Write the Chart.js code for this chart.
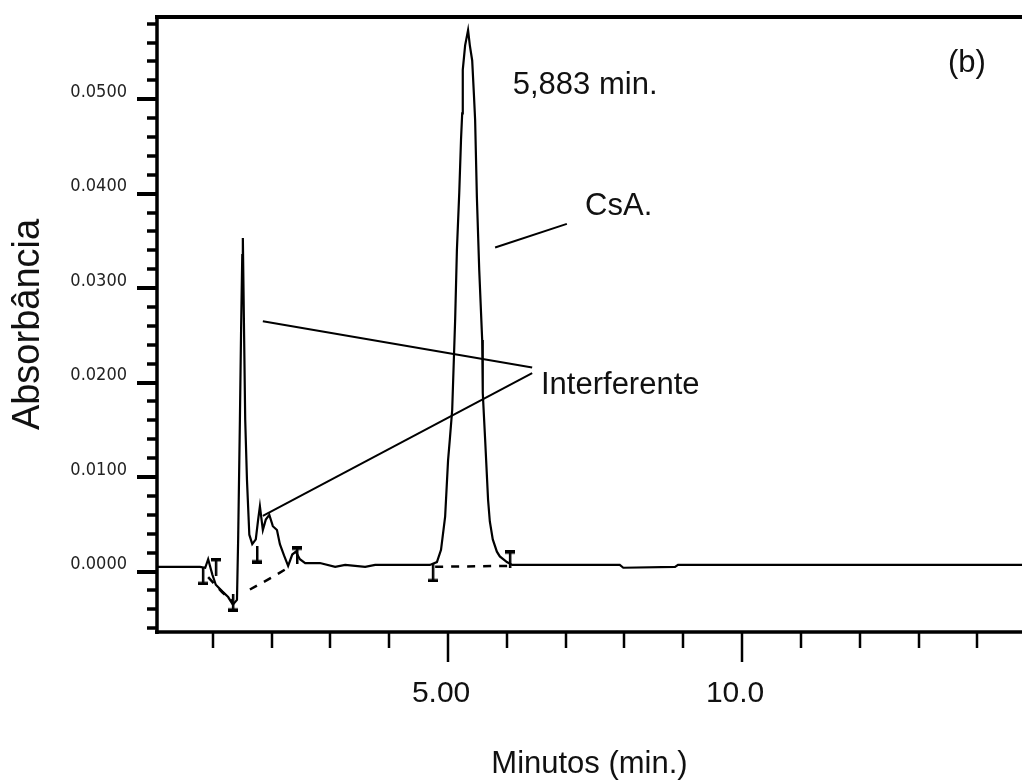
<!DOCTYPE html>
<html>
<head>
<meta charset="utf-8">
<script src="https://cdn.jsdelivr.net/npm/chart.js@4.4.0/dist/chart.umd.min.js"></script>
<style>
  html, body { margin: 0; padding: 0; background: #fff; }
  canvas { display: block; }
</style>
</head>
<body>
<canvas id="cromatograma" width="1022" height="781"></canvas>
<script>
// traço principal: tempo (min) x absorbância
const tempo = [
  0.05, 0.78, 0.87, 0.92, 0.99, 1.05, 1.16, 1.26, 1.34, 1.41,
  1.43, 1.46, 1.48, 1.50, 1.51, 1.53, 1.55, 1.58, 1.62, 1.67,
  1.73, 1.77, 1.80, 1.85, 1.90, 1.96, 2.02, 2.09, 2.14, 2.21,
  2.28, 2.35, 2.41, 2.48, 2.57, 2.82, 3.08, 3.25, 3.59, 3.76,
  4.69, 4.81, 4.88, 4.95, 5.00, 5.03, 5.07, 5.12, 5.15, 5.19,
  5.22, 5.24, 5.25, 5.29, 5.34, 5.37, 5.41, 5.44, 5.46, 5.49,
  5.53, 5.58, 5.59, 5.63, 5.68, 5.71, 5.76, 5.83, 5.88, 6.00,
  6.09, 7.92, 7.98, 8.86, 8.91, 14.76
];
const absorbancia = [
  0.0005, 0.0005, 0.0004, 0.0013, -0.0003, -0.0014, -0.0021, -0.0027, -0.0035, -0.0030,
  0.0034, 0.0161, 0.0256, 0.0335, 0.0353, 0.0256, 0.0161, 0.0097, 0.0039, 0.0029,
  0.0034, 0.0055, 0.0069, 0.0044, 0.0055, 0.0060, 0.0048, 0.0044, 0.0029, 0.0017,
  0.0006, 0.0018, 0.0021, 0.0013, 0.0009, 0.0009, 0.0005, 0.0007, 0.0005, 0.0007,
  0.0007, 0.0010, 0.0023, 0.0058, 0.0118, 0.0140, 0.0171, 0.0266, 0.0340, 0.0401,
  0.0457, 0.0485, 0.0531, 0.0557, 0.0573, 0.0557, 0.0541, 0.0504, 0.0478, 0.0396,
  0.0319, 0.0245, 0.0189, 0.0140, 0.0076, 0.0053, 0.0034, 0.0021, 0.0016, 0.0010,
  0.0007, 0.0007, 0.0004, 0.0005, 0.0007, 0.0007
];

// linha de base da integração (tracejada); null separa os trechos
const baseTempo = [0.92, 1.16, 1.33, null, 1.63, 2.01, 2.28, null, 4.78, 6.05];
const baseAbs = [-0.0006, -0.0022, -0.0031, null, -0.0019, -0.0006, 0.0004, null, 0.0005, 0.0006];

// marcadores de início/fim de pico
const marcaTempo = [0.83, 1.05, 1.34, 1.75, 2.43, 4.74, 6.05];
const marcaAbs = [-0.0005, 0.0005, -0.0033, 0.0018, 0.0017, -0.0002, 0.0013];
const marcaTipo = ['baixo', 'cima', 'baixo', 'baixo', 'cima', 'baixo', 'cima'];

// eixos
const xTickValores = [5, 10];
const xTickTextos = ['5.00', '10.0'];
const yTickValores = [0, 0.01, 0.02, 0.03, 0.04, 0.05];

// anotações
const anotTextos = ['5,883 min.', 'CsA.', 'Interferente', '(b)'];
const anotX = [6.10, 7.33, 6.58, 13.50];
const anotY = [0.0506, 0.0377, 0.0188, 0.0529];
// linhas de chamada: [x1, y1, x2, y2]
const chamadas = [
  [5.80, 0.0343, 7.02, 0.0368],
  [1.85, 0.0265, 6.43, 0.0216],
  [1.85, 0.0059, 6.43, 0.0210]
];

function marcador(tipo) {
  const c = document.createElement('canvas');
  c.width = 10; c.height = 18;
  const g = c.getContext('2d');
  g.fillStyle = '#000';
  g.fillRect(4, 0, 2.5, 18);
  if (tipo === 'cima') g.fillRect(0, 0, 10, 3.5);
  else g.fillRect(0, 14.5, 10, 3.5);
  return c;
}

const pontos = tempo.map((t, i) => ({ x: t, y: absorbancia[i] }));
const base = baseTempo.map((t, i) => ({ x: t, y: baseAbs[i] }));
const marcas = marcaTempo.map((t, i) => ({ x: t, y: marcaAbs[i] }));
const estilos = marcaTipo.map(marcador);

const eixos = {
  id: 'eixos',
  afterDraw(chart) {
    const { ctx, chartArea: a, scales: { x, y } } = chart;
    ctx.save();
    ctx.strokeStyle = '#000';
    ctx.lineCap = 'butt';
    // moldura
    ctx.lineWidth = 4;
    ctx.beginPath(); ctx.moveTo(a.left - 2, a.top); ctx.lineTo(a.right, a.top); ctx.stroke();
    ctx.lineWidth = 3.5;
    ctx.beginPath(); ctx.moveTo(a.left, a.top - 2); ctx.lineTo(a.left, a.bottom + 2); ctx.stroke();
    ctx.beginPath(); ctx.moveTo(a.left - 2, a.bottom); ctx.lineTo(a.right, a.bottom); ctx.stroke();
    // marcas do eixo y (a cada 0.002)
    for (let k = -3; k <= 29; k++) {
      const py = Math.round(y.getPixelForValue(k * 0.002));
      const maior = k % 5 === 0;
      ctx.lineWidth = maior ? 4 : 3.5;
      ctx.beginPath();
      ctx.moveTo(a.left - (maior ? 20 : 10), py);
      ctx.lineTo(a.left, py);
      ctx.stroke();
    }
    // marcas do eixo x (a cada minuto)
    ctx.lineWidth = 2.5;
    for (let m = 1; m <= 14; m++) {
      const px = Math.round(x.getPixelForValue(m));
      const len = xTickValores.includes(m) ? 30 : 16;
      ctx.beginPath();
      ctx.moveTo(px, a.bottom);
      ctx.lineTo(px, a.bottom + len);
      ctx.stroke();
    }
    ctx.restore();
  }
};

const anotacoes = {
  id: 'anotacoes',
  afterDatasetsDraw(chart) {
    const { ctx, scales: { x, y } } = chart;
    ctx.save();
    ctx.strokeStyle = '#000';
    ctx.lineWidth = 2;
    chamadas.forEach(c => {
      ctx.beginPath();
      ctx.moveTo(x.getPixelForValue(c[0]), y.getPixelForValue(c[1]));
      ctx.lineTo(x.getPixelForValue(c[2]), y.getPixelForValue(c[3]));
      ctx.stroke();
    });
    ctx.fillStyle = '#111';
    ctx.font = '31px "Liberation Sans", Arial, sans-serif';
    ctx.textBaseline = 'alphabetic';
    ctx.textAlign = 'left';
    anotTextos.forEach((s, i) => {
      ctx.fillText(s, x.getPixelForValue(anotX[i]), y.getPixelForValue(anotY[i]));
    });
    ctx.restore();
  }
};

new Chart(document.getElementById('cromatograma'), {
  type: 'line',
  data: {
    datasets: [
      {
        label: 'Absorbância',
        data: pontos,
        borderColor: '#000',
        borderWidth: 2.2,
        pointRadius: 0,
        tension: 0,
        fill: false
      },
      {
        label: 'Linha de base',
        data: base,
        borderColor: '#000',
        borderWidth: 2.5,
        borderDash: [8, 8],
        pointRadius: 0,
        spanGaps: false,
        fill: false
      },
      {
        label: 'Marcadores',
        data: marcas,
        showLine: false,
        pointStyle: estilos,
        pointRadius: 9,
        borderWidth: 0
      }
    ]
  },
  options: {
    responsive: false,
    animation: false,
    devicePixelRatio: 1,
    layout: { autoPadding: false, padding: { top: 17, right: 0, left: 0, bottom: 0 } },
    plugins: { legend: { display: false }, tooltip: { enabled: false } },
    scales: {
      x: {
        type: 'linear',
        min: 0.05,
        max: 14.76,
        afterFit: s => { s.height = 149; s.paddingLeft = 0; s.paddingRight = 0; },
        grid: { display: false, drawTicks: false },
        border: { display: false },
        ticks: {
          stepSize: 5,
          includeBounds: false,
          autoSkip: false,
          maxRotation: 0,
          padding: 44,
          labelOffset: -7,
          color: '#111',
          font: { family: '"Liberation Sans", Arial, sans-serif', size: 30 },
          callback: v => {
            const i = xTickValores.indexOf(v);
            return i >= 0 ? xTickTextos[i] : '';
          }
        },
        title: {
          display: true,
          text: 'Minutos (min.)',
          color: '#111',
          font: { family: '"Liberation Sans", Arial, sans-serif', size: 31, lineHeight: 1 },
          padding: { top: 0, bottom: 1 }
        }
      },
      y: {
        type: 'linear',
        min: -0.0064,
        max: 0.0587,
        afterFit: s => { s.width = 157; s.paddingTop = 0; s.paddingBottom = 0; },
        grid: { display: false, drawTicks: false },
        border: { display: false },
        ticks: {
          stepSize: 0.01,
          includeBounds: false,
          padding: 30,
          labelOffset: -7,
          color: '#222',
          font: { family: '"Liberation Sans Narrow", "DejaVu Sans Condensed", "DejaVu Sans Mono", monospace', size: 18 },
          callback: v => yTickValores.some(t => Math.abs(t - v) < 1e-9) ? v.toFixed(4) : ''
        },
        title: {
          display: true,
          text: 'Absorbância',
          color: '#111',
          font: { family: '"Liberation Sans", Arial, sans-serif', size: 38, lineHeight: 1 },
          padding: { top: 10, bottom: 0 }
        }
      }
    }
  },
  plugins: [eixos, anotacoes]
});
</script>
</body>
</html>
